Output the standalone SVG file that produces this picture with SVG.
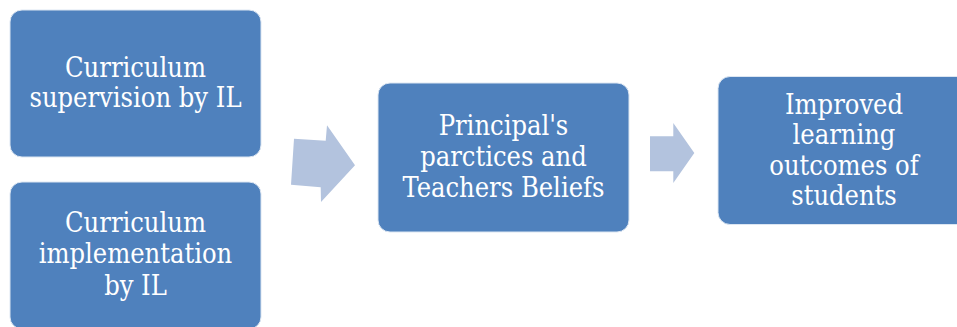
<svg xmlns="http://www.w3.org/2000/svg" width="957" height="327" viewBox="0 0 957 327">
  <style>
    .box { fill: #4F81BD; stroke: #DCE6F2; stroke-width: 1; }
    .arrow { fill: #B3C3DE; }
    .label { font-family: "DejaVu Serif Condensed", "DejaVu Serif", "Liberation Serif", serif; font-stretch: condensed; font-size: 27px; fill: #FFFFFF; text-anchor: middle; }
  </style>
  <rect width="957" height="327" fill="#FFFFFF"/>

  <g id="connectors">
    <polygon class="arrow" points="294,138.7 325.7,140.7 327,125.3 355,165.3 321,202 320.7,187.3 291,184.7"/>
    <polygon class="arrow" points="650,136.3 673.3,136.3 673.3,123 694.3,153 673.3,183 673.3,171.3 650,171.3"/>
  </g>

  <g id="node-supervision">
    <rect class="box" x="10" y="10" width="251" height="147" rx="12" ry="12"/>
    <text class="label" x="135.5" y="77">Curriculum</text>
    <text class="label" x="135.5" y="107">supervision by IL</text>
  </g>

  <g id="node-implementation">
    <rect class="box" x="10" y="182" width="251" height="147" rx="12" ry="12"/>
    <text class="label" x="135.5" y="232">Curriculum</text>
    <text class="label" x="135.5" y="263">implementation</text>
    <text class="label" x="135.5" y="295">by IL</text>
  </g>

  <g id="node-practices">
    <rect class="box" x="378" y="83" width="251" height="149" rx="12" ry="12"/>
    <text class="label" x="503.5" y="135">Principal's</text>
    <text class="label" x="503.5" y="166">parctices and</text>
    <text class="label" x="503.5" y="196.5">Teachers Beliefs</text>
  </g>

  <g id="node-outcomes">
    <rect class="box" x="718" y="76.5" width="251" height="148" rx="12" ry="12"/>
    <text class="label" x="844" y="114">Improved</text>
    <text class="label" x="844" y="144">learning</text>
    <text class="label" x="844" y="175">outcomes of</text>
    <text class="label" x="844" y="205">students</text>
  </g>
</svg>
